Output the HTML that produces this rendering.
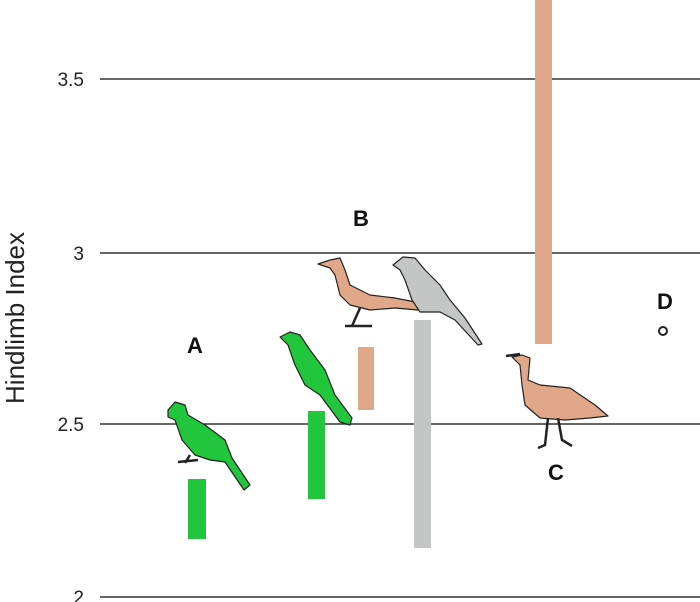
<!DOCTYPE html>
<html><head><style>body{margin:0;background:#fff}svg{display:block}</style></head><body>
<svg width="700" height="602" viewBox="0 0 700 602" xmlns="http://www.w3.org/2000/svg" font-family="Liberation Sans, sans-serif">
<rect width="700" height="602" fill="#fff"/>
<g stroke="#333" stroke-width="1.5">
<line x1="100" y1="79" x2="700" y2="79"/>
<line x1="100" y1="253" x2="700" y2="253"/>
<line x1="100" y1="424" x2="700" y2="424"/>
<line x1="100" y1="597" x2="700" y2="597"/>
</g>
<g font-size="19" fill="#222" text-anchor="end">
<text x="84" y="86">3.5</text>
<text x="84" y="260">3</text>
<text x="84" y="431">2.5</text>
<text x="84" y="604">2</text>
</g>
<text transform="translate(24,318) rotate(-90)" font-size="26" text-anchor="middle" fill="#222">Hindlimb Index</text>
<rect x="188" y="479" width="18" height="60" fill="#22c63d"/>
<rect x="308" y="411" width="17" height="88" fill="#22c63d"/>
<rect x="358" y="347" width="16" height="63" fill="#e0a888"/>
<rect x="414" y="320" width="17" height="228" fill="#c4c6c6"/>
<rect x="535" y="0" width="17" height="344" fill="#e0a888"/>
<circle cx="663" cy="331" r="4" fill="#fff" stroke="#222" stroke-width="2"/>
<g font-size="22" font-weight="bold" fill="#111" text-anchor="middle">
<text x="195" y="353">A</text>
<text x="361" y="226">B</text>
<text x="556" y="480">C</text>
<text x="665" y="309">D</text>
</g>
<g stroke="#222" stroke-width="1.2" stroke-linejoin="round">
<polygon fill="#22c63d" points="168,410 175,402 185,405 188,415 205,425 225,440 232,458 250,485 244,490 225,462 210,460 195,455 182,440 175,420 168,417"/>
<polygon fill="#22c63d" points="280,337 290,332 300,335 310,350 325,370 335,395 352,418 350,425 340,422 320,395 305,385 295,365 288,345"/>
<polygon fill="#e0a888" points="318,264 330,260 340,258 345,270 350,285 370,295 395,298 420,303 418,310 395,308 370,310 350,305 340,295 335,275 330,268"/>
<polygon fill="#c4c6c6" points="393,265 403,257 415,258 425,270 440,285 450,300 465,318 482,344 478,345 455,320 440,312 420,312 412,300 405,280 400,270"/>
<polygon fill="#e0a888" points="512,357 522,355 530,358 528,380 540,385 570,388 595,405 608,416 590,418 565,420 540,418 525,405 522,385 520,365"/>
</g>
<g stroke="#222" stroke-width="2.5" fill="none">
<path d="M360 308 L352 326 M345 326 L372 326"/>
<path d="M190 455 L185 463 M178 462 L198 460"/>
<path d="M548 418 L545 445 L538 448 M558 418 L562 440 L572 446"/>
<path d="M506 356 L520 354"/>
</g>
</svg>
</body></html>
